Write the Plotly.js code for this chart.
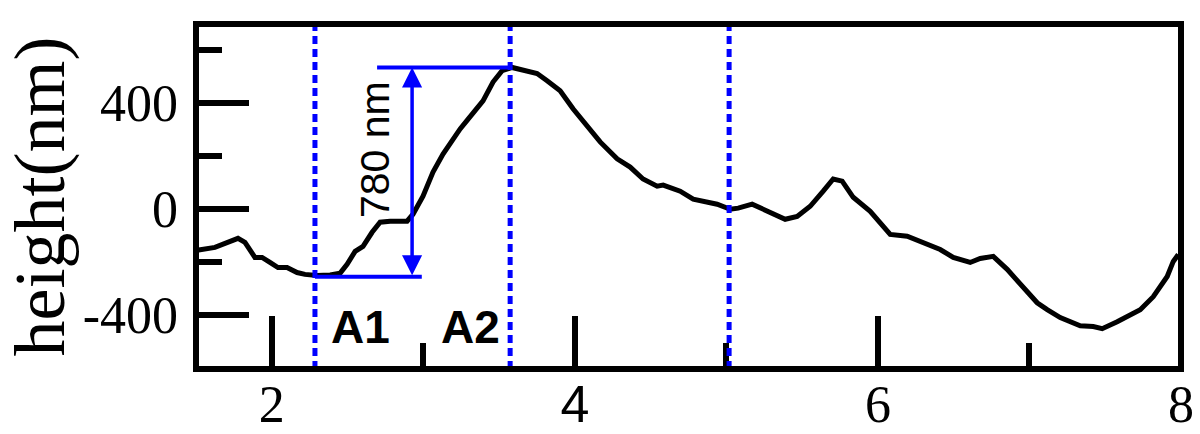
<!DOCTYPE html>
<html>
<head>
<meta charset="utf-8">
<script src="https://cdn.plot.ly/plotly-3.0.1.min.js"></script>
<style>html,body{margin:0;padding:0;background:#fff;}#chart{width:1200px;height:434px;}</style>
</head>
<body>
<div id="chart"></div>
<script>
// Profile data (distance, height nm)
const profileX = [1.507,1.625,1.777,1.823,1.889,1.936,1.988,2.041,2.101,2.167,2.219,2.299,2.385,2.450,2.497,2.550,2.602,2.662,2.715,2.781,2.893,2.932,2.998,3.064,3.130,3.177,3.243,3.289,3.328,3.394,3.460,3.520,3.586,3.658,3.751,3.817,3.903,3.988,4.081,4.167,4.279,4.365,4.450,4.543,4.583,4.695,4.781,4.847,4.939,5.025,5.078,5.170,5.269,5.388,5.467,5.553,5.639,5.705,5.764,5.837,5.949,6.081,6.193,6.299,6.411,6.497,6.609,6.675,6.761,6.853,6.959,7.051,7.117,7.203,7.335,7.421,7.480,7.579,7.731,7.817,7.909,7.949,7.982];
const profileY = [-155,-144,-110,-125,-182,-182,-201,-220,-220,-239,-246,-250,-248,-242,-208,-159,-140,-87,-49,-45,-45,-19,49,140,208,250,303,335,360,409,480,523,535,523,512,485,447,379,311,254,190,159,114,87,91,68,38,30,19,0,4,19,-8,-38,-27,11,68,114,106,45,-8,-95,-102,-125,-152,-182,-201,-186,-178,-227,-296,-353,-379,-409,-440,-443,-451,-425,-379,-330,-254,-197,-171];

// Tick labels
const xTickVals = [2, 4, 6, 8];
const xTickText = ['2', '<span style="font-family:Liberation Sans">4</span>', '6', '8'];
const xMinorVals = [3, 5, 7];
const yTickVals = [-400, 0, 400];
const yTickText = ['-400', '0', '400'];
const yMinorVals = [-200, 200, 600];

// Markers
const dashedX = [2.285, 3.573, 5.018];
const levelTop = 535, levelBottom = -255;
const topLineX = [2.695, 3.573];
const bottomLineX = [2.285, 2.99];
const arrowX = 2.926;
const heightLabel = {text: '780 nm', x: 2.682, y: 224};
const regionLabels = [{text: 'A1', x: 2.583, y: -444}, {text: 'A2', x: 3.309, y: -444}];

const BLUE = '#0000ff';
const shapes = [];
dashedX.forEach(x => shapes.push({type:'line', xref:'x', yref:'paper', x0:x, x1:x, y0:0, y1:1,
  line:{color:BLUE, width:5, dash:'8px,5px'}}));
shapes.push({type:'line', xref:'x', yref:'y', x0:topLineX[0], x1:topLineX[1], y0:levelTop, y1:levelTop, line:{color:BLUE, width:4}});
shapes.push({type:'line', xref:'x', yref:'y', x0:bottomLineX[0], x1:bottomLineX[1], y0:levelBottom, y1:levelBottom, line:{color:BLUE, width:4}});
shapes.push({type:'rect', xref:'paper', yref:'paper', x0:0, x1:1, y0:0, y1:1, line:{color:'black', width:6}, layer:'above'});

const annotations = [
  {x: arrowX, y: levelTop, ax: arrowX, ay: levelBottom, axref:'x', ayref:'y', xref:'x', yref:'y', text:'',
   showarrow:true, arrowside:'end+start', arrowhead:2, startarrowhead:2, arrowsize:1.15, startarrowsize:1.15,
   arrowwidth:3.5, arrowcolor:BLUE, standoff:0, startstandoff:0},
  {x: heightLabel.x, y: heightLabel.y, xref:'x', yref:'y', text: heightLabel.text, showarrow:false, textangle:-90,
   font:{family:'Liberation Sans, Arial, sans-serif', size:41, color:'black'}}
];
regionLabels.forEach(r => annotations.push({x:r.x, y:r.y, xref:'x', yref:'y', text:'<b>'+r.text+'</b>', showarrow:false,
  font:{family:'Liberation Sans, Arial, sans-serif', size:46, color:'black'}}));

const data = [{x: profileX, y: profileY, type:'scatter', mode:'lines', line:{color:'black', width:5}, hoverinfo:'skip'}];

const layout = {
  width:1200, height:434,
  margin:{l:196, r:19, t:24, b:65},
  paper_bgcolor:'#fff', plot_bgcolor:'#fff',
  showlegend:false,
  xaxis:{range:[1.5, 8], showgrid:false, zeroline:false, showline:false,
    tickmode:'array', tickvals:xTickVals, ticktext:xTickText,
    ticks:'inside', ticklen:53, tickwidth:6, tickcolor:'black',
    minor:{tickvals:xMinorVals, ticks:'inside', ticklen:26, tickwidth:6, tickcolor:'black', showgrid:false},
    tickfont:{family:'Liberation Serif, Times New Roman, serif', size:52, color:'black'}},
  yaxis:{range:[-603, 699], showgrid:false, zeroline:false, showline:false,
    tickmode:'array', tickvals:yTickVals, ticktext:yTickText,
    ticks:'inside', ticklen:53, tickwidth:6, tickcolor:'black', ticklabelstandoff:17,
    minor:{tickvals:yMinorVals, ticks:'inside', ticklen:26, tickwidth:6, tickcolor:'black', showgrid:false},
    tickfont:{family:'Liberation Serif, Times New Roman, serif', size:52, color:'black'},
    title:{text:'height(nm)', font:{family:'Liberation Serif, Times New Roman, serif', size:72, color:'black'}, standoff:10}},
  shapes: shapes,
  annotations: annotations
};

Plotly.newPlot('chart', data, layout, {staticPlot:true, displayModeBar:false});
</script>
</body>
</html>
